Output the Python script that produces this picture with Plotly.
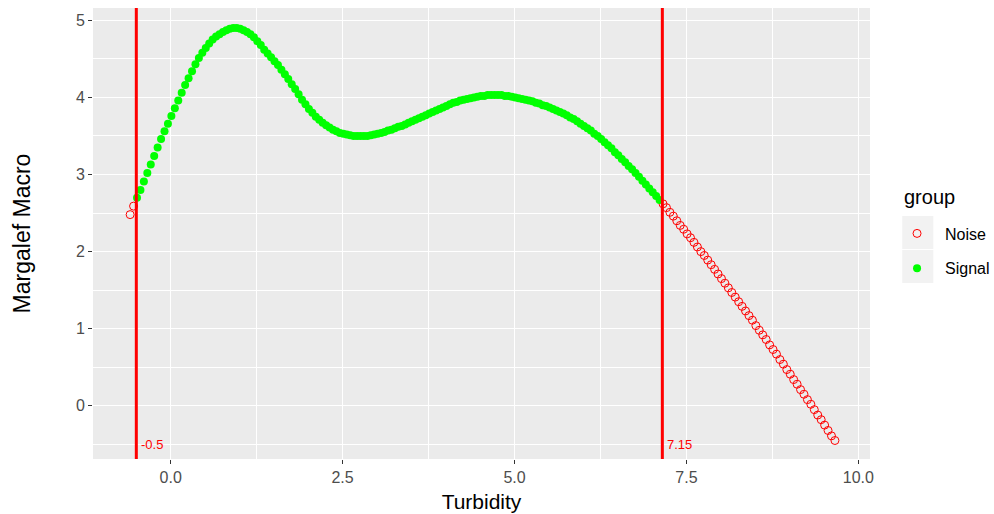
import plotly.graph_objects as go

turbidity = [
    -0.59, -0.54, -0.49, -0.44, -0.39, -0.34, -0.29, -0.24, -0.19, -0.14,
    -0.09, -0.04, 0.01, 0.06, 0.11, 0.16, 0.21, 0.26, 0.31, 0.36,
    0.41, 0.46, 0.51, 0.56, 0.61, 0.66, 0.71, 0.76, 0.81, 0.86,
    0.91, 0.96, 1.01, 1.06, 1.11, 1.16, 1.21, 1.26, 1.31, 1.36,
    1.41, 1.46, 1.51, 1.56, 1.61, 1.66, 1.71, 1.76, 1.81, 1.86,
    1.91, 1.96, 2.01, 2.06, 2.11, 2.16, 2.21, 2.26, 2.31, 2.36,
    2.41, 2.46, 2.51, 2.56, 2.61, 2.66, 2.71, 2.76, 2.81, 2.86,
    2.91, 2.96, 3.01, 3.06, 3.11, 3.16, 3.21, 3.26, 3.31, 3.36,
    3.41, 3.46, 3.51, 3.56, 3.61, 3.66, 3.71, 3.76, 3.81, 3.86,
    3.91, 3.96, 4.01, 4.06, 4.11, 4.16, 4.21, 4.26, 4.31, 4.36,
    4.41, 4.46, 4.51, 4.56, 4.61, 4.66, 4.71, 4.76, 4.81, 4.86,
    4.91, 4.96, 5.01, 5.06, 5.11, 5.16, 5.21, 5.26, 5.31, 5.36,
    5.41, 5.46, 5.51, 5.56, 5.61, 5.66, 5.71, 5.76, 5.81, 5.86,
    5.91, 5.96, 6.01, 6.06, 6.11, 6.16, 6.21, 6.26, 6.31, 6.36,
    6.41, 6.46, 6.51, 6.56, 6.61, 6.66, 6.71, 6.76, 6.81, 6.86,
    6.91, 6.96, 7.01, 7.06, 7.11, 7.16, 7.21, 7.26, 7.31, 7.36,
    7.41, 7.46, 7.51, 7.56, 7.61, 7.66, 7.71, 7.76, 7.81, 7.86,
    7.91, 7.96, 8.01, 8.06, 8.11, 8.16, 8.21, 8.26, 8.31, 8.36,
    8.41, 8.46, 8.51, 8.56, 8.61, 8.66, 8.71, 8.76, 8.81, 8.86,
    8.91, 8.96, 9.01, 9.06, 9.11, 9.16, 9.21, 9.26, 9.31, 9.36,
    9.41, 9.46, 9.51, 9.56, 9.61, 9.66,
]

margalef_macro = [
    2.48, 2.59, 2.70, 2.80, 2.91, 3.02, 3.13, 3.24, 3.35, 3.46,
    3.56, 3.66, 3.76, 3.86, 3.96, 4.06, 4.16, 4.25, 4.34, 4.43,
    4.51, 4.58, 4.64, 4.70, 4.75, 4.79, 4.82, 4.85, 4.87, 4.89,
    4.90, 4.90, 4.89, 4.87, 4.85, 4.82, 4.78, 4.73, 4.68, 4.62,
    4.57, 4.52, 4.47, 4.42, 4.36, 4.30, 4.24, 4.17, 4.11, 4.04,
    3.97, 3.91, 3.85, 3.80, 3.75, 3.71, 3.67, 3.64, 3.61, 3.58,
    3.56, 3.54, 3.53, 3.52, 3.51, 3.50, 3.50, 3.50, 3.50, 3.50,
    3.51, 3.52, 3.53, 3.54, 3.55, 3.57, 3.58, 3.60, 3.62, 3.63,
    3.65, 3.67, 3.69, 3.71, 3.73, 3.75, 3.77, 3.79, 3.81, 3.83,
    3.85, 3.87, 3.89, 3.91, 3.93, 3.94, 3.96, 3.97, 3.98, 3.99,
    4.00, 4.01, 4.02, 4.02, 4.03, 4.03, 4.03, 4.03, 4.03, 4.02,
    4.02, 4.01, 4.00, 3.99, 3.98, 3.97, 3.96, 3.95, 3.93, 3.92,
    3.90, 3.89, 3.87, 3.85, 3.83, 3.81, 3.79, 3.77, 3.74, 3.72,
    3.69, 3.66, 3.63, 3.60, 3.57, 3.53, 3.50, 3.46, 3.42, 3.38,
    3.34, 3.29, 3.25, 3.20, 3.16, 3.11, 3.07, 3.02, 2.97, 2.92,
    2.87, 2.82, 2.77, 2.72, 2.67, 2.62, 2.57, 2.51, 2.46, 2.40,
    2.34, 2.29, 2.23, 2.18, 2.12, 2.06, 2.00, 1.95, 1.89, 1.83,
    1.77, 1.71, 1.65, 1.59, 1.53, 1.47, 1.41, 1.35, 1.29, 1.23,
    1.17, 1.11, 1.04, 0.98, 0.92, 0.86, 0.79, 0.73, 0.67, 0.60,
    0.54, 0.47, 0.41, 0.34, 0.28, 0.21, 0.15, 0.08, 0.02, -0.05,
    -0.12, -0.18, -0.25, -0.32, -0.39, -0.45,
]

cut_points = [-0.5, 7.15]
cut_labels = ["-0.5", "7.15"]
x_tick_vals = [0.0, 2.5, 5.0, 7.5, 10.0]
x_tick_text = ["0.0", "2.5", "5.0", "7.5", "10.0"]
y_tick_vals = [0, 1, 2, 3, 4, 5]
y_tick_text = ["0", "1", "2", "3", "4", "5"]
group_names = ["Noise", "Signal"]
legend_title = "group"

lo, hi = min(cut_points), max(cut_points)
sig_x, sig_y, noi_x, noi_y = [], [], [], []
for xv, yv in zip(turbidity, margalef_macro):
    if lo <= xv <= hi:
        sig_x.append(xv); sig_y.append(yv)
    else:
        noi_x.append(xv); noi_y.append(yv)

FONT = "Liberation Sans, Arial, sans-serif"
fig = go.Figure()
fig.add_trace(go.Scatter(
    x=noi_x, y=noi_y, mode="markers", name=group_names[0], legendgroup="a",
    marker=dict(symbol="circle-open", size=8, color="#FF0000", line=dict(width=1, color="#FF0000")),
))
fig.add_trace(go.Scatter(
    x=sig_x, y=sig_y, mode="markers", name=group_names[1], legendgroup="b",
    marker=dict(symbol="circle", size=8, color="#00FF00"),
))

for c, lab in zip(cut_points, cut_labels):
    fig.add_shape(type="line", xref="x", yref="paper", x0=c, x1=c, y0=0, y1=1,
                  line=dict(color="#FF0000", width=3), layer="above")
    fig.add_annotation(x=c, y=-0.5, xref="x", yref="y", text=lab, showarrow=False,
                       xanchor="left", yanchor="middle", xshift=3,
                       font=dict(color="#FF0000", size=13, family=FONT))

# legend key backgrounds (ggplot style)
for y0, y1 in [(0.4656, 0.5388), (0.3903, 0.4634)]:
    fig.add_shape(type="rect", xref="paper", yref="paper", x0=1.0415, x1=1.0815,
                  y0=y0, y1=y1, fillcolor="#F2F2F2", line=dict(width=0), layer="below")

# legend title
fig.add_annotation(x=1.0412, y=0.5809, xref="paper", yref="paper", text=legend_title,
                   showarrow=False, xanchor="left", yanchor="middle",
                   font=dict(size=20, color="#000000", family=FONT))

axis_common = dict(
    showgrid=True, gridcolor="#FFFFFF", gridwidth=1.1, zeroline=False,
    ticks="outside", ticklen=4, tickwidth=1, tickcolor="#333333",
    tickfont=dict(size=16, color="#4D4D4D", family=FONT),
    showline=False,
)
fig.update_xaxes(
    range=[-1.13, 10.17], tickvals=x_tick_vals, ticktext=x_tick_text,
    title=dict(text="Turbidity", font=dict(size=21, color="#000000", family=FONT), standoff=9),
    minor=dict(tickvals=[1.25, 3.75, 6.25, 8.75], showgrid=True, gridcolor="#FFFFFF", gridwidth=0.55, ticks=""),
    **axis_common,
)
fig.update_yaxes(
    range=[-0.69, 5.16], tickvals=y_tick_vals, ticktext=y_tick_text,
    title=dict(text="Margalef Macro", font=dict(size=23, color="#000000", family=FONT), standoff=38),
    minor=dict(tickvals=[-0.5, 0.5, 1.5, 2.5, 3.5, 4.5], showgrid=True, gridcolor="#FFFFFF", gridwidth=0.55, ticks=""),
    **axis_common,
)
fig.update_layout(
    width=994, height=514,
    margin=dict(l=93, r=124, t=8, b=55, autoexpand=False),
    paper_bgcolor="#FFFFFF", plot_bgcolor="#EBEBEB",
    font=dict(family=FONT),
    showlegend=True,
    legend=dict(
        font=dict(size=16, color="#000000", family=FONT),
        x=1.0245, xanchor="left", y=0.5377, yanchor="top",
        itemwidth=46,
        tracegroupgap=11, traceorder="grouped", bgcolor="rgba(0,0,0,0)",
    ),
)
fig.write_html("out.html")
